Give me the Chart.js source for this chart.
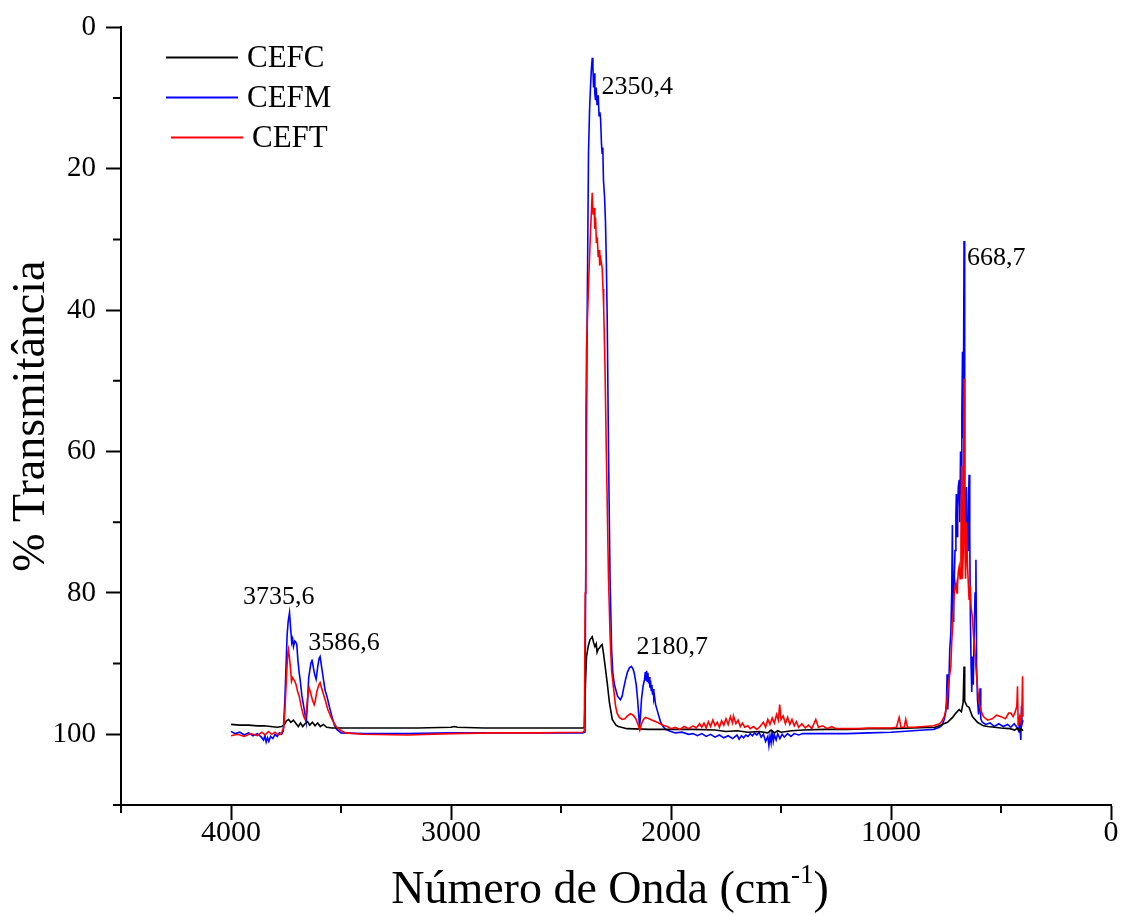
<!DOCTYPE html>
<html lang="pt-BR">
<head>
<meta charset="utf-8">
<title>Espectro FTIR - CEFC / CEFM / CEFT</title>
<script src="https://cdn.jsdelivr.net/npm/chart.js@4.4.1/dist/chart.umd.min.js"></script>
<style>
  html, body { margin: 0; padding: 0; background: #fff; }
  #caixa { position: relative; width: 1126px; height: 915px; }
</style>
</head>
<body>
<div id="caixa"><canvas id="grafico-ftir"></canvas></div>
<script>
// Séries: [número de onda (cm-1), % transmitância]
const cefc = [
  [4000,98.6],[3960,98.7],[3920,98.7],[3880,98.8],[3850,98.8],[3820,98.9],[3790,99.0],[3770,98.9],
  [3757,98.6],[3748,98.1],[3738,97.9],[3728,98.3],[3716,98.0],[3704,98.5],[3694,98.9],[3684,98.4],
  [3674,98.9],[3664,98.5],[3652,98.2],[3642,98.7],[3630,98.3],[3618,98.8],[3606,98.4],[3594,98.9],
  [3580,98.6],[3565,99.0],[3540,99.1],[3450,99.1],[3300,99.1],[3150,99.1],[3000,99.0],[2985,98.9],
  [2970,99.0],[2850,99.1],[2700,99.1],[2550,99.1],[2400,99.1],[2394,99.0],[2389,93.0],[2384,89.0],
  [2376,87.5],[2368,86.6],[2358,86.2],[2352,87.0],[2346,87.6],[2340,87.2],[2336,88.4],[2330,87.9],
  [2325,87.8],[2320,87.5],[2313,87.3],[2307,88.5],[2300,90.2],[2290,92.7],[2280,95.5],[2267,97.9],
  [2250,98.7],[2239,98.9],[2200,99.2],[2100,99.3],[2000,99.3],[1900,99.3],[1800,99.4],[1750,99.6],
  [1700,99.5],[1650,99.7],[1600,99.6],[1560,99.8],[1545,99.4],[1530,99.8],[1515,99.5],[1500,99.7],
  [1450,99.5],[1400,99.4],[1300,99.3],[1200,99.3],[1100,99.2],[1000,99.2],[900,99.1],[800,99.0],
  [780,98.8],[760,98.5],[743,98.3],[720,97.6],[705,97.0],[690,96.5],[680,96.8],[672,95.5],
  [668,90.4],[665,95.3],[655,96.0],[645,96.2],[630,97.5],[607,98.3],[580,98.8],[560,98.9],
  [500,99.1],[460,99.2],[437,99.4],[425,99.1],[415,99.6],[408,99.2],[400,99.5]
];

const cefm = [
  [4000,99.6],[3980,99.9],[3960,99.7],[3940,100.1],[3920,99.8],[3900,100.2],[3880,99.9],[3862,100.4],
  [3852,100.8],[3846,100.2],[3840,101.1],[3834,100.5],[3828,101.0],[3820,100.3],[3810,100.6],[3800,100.0],
  [3790,100.3],[3780,99.8],[3770,100.0],[3762,99.5],[3755,95.0],[3745,86.0],[3740,84.0],[3734,82.8],
  [3729,85.0],[3724,87.0],[3720,86.5],[3716,87.6],[3710,86.8],[3705,87.0],[3701,87.3],[3696,89.5],
  [3690,91.3],[3686,92.2],[3678,94.5],[3667,96.5],[3658,98.3],[3652,95.5],[3647,92.0],[3643,91.2],
  [3636,89.8],[3632,89.4],[3626,90.5],[3620,91.5],[3613,92.2],[3606,90.5],[3600,89.3],[3595,89.0],
  [3588,90.5],[3580,92.2],[3572,93.8],[3564,94.6],[3552,96.2],[3541,97.5],[3530,98.7],[3519,99.3],
  [3500,99.8],[3400,99.9],[3200,99.9],[3000,99.8],[2800,99.8],[2600,99.8],[2400,99.8],[2394,99.7],
  [2391,95.0],[2387,74.0],[2381,41.0],[2375,17.8],[2370,11.5],[2366,8.5],[2362,6.0],[2358,4.3],
  [2355,5.5],[2352,8.5],[2349,6.5],[2346,9.5],[2343,10.3],[2340,8.5],[2336,11.0],[2331,9.6],
  [2327,12.5],[2323,12.0],[2320,13.0],[2316,16.5],[2313,17.8],[2310,17.0],[2307,21.6],[2302,24.0],
  [2298,27.3],[2294,33.0],[2290,41.0],[2284,60.0],[2277,78.0],[2270,88.0],[2264,91.5],[2257,93.0],
  [2243,94.6],[2230,95.1],[2222,94.6],[2216,93.6],[2207,92.3],[2198,91.2],[2189,90.6],[2180,90.4],
  [2172,90.8],[2166,91.5],[2158,93.0],[2152,95.0],[2146,97.5],[2143,99.0],[2139,97.5],[2134,95.0],
  [2127,93.2],[2120,92.2],[2117,91.2],[2114,92.4],[2111,91.0],[2108,92.5],[2105,91.3],[2102,92.8],
  [2099,91.9],[2096,93.4],[2093,92.4],[2090,93.8],[2087,93.0],[2084,94.4],[2081,93.6],[2078,95.0],
  [2075,94.6],[2070,95.8],[2060,96.9],[2048,98.2],[2036,98.9],[2025,99.3],[2000,99.6],[1980,99.8],
  [1950,99.7],[1920,100.0],[1900,99.9],[1880,100.2],[1860,99.9],[1840,100.3],[1820,100.0],[1800,100.4],
  [1780,100.1],[1760,100.5],[1740,100.2],[1720,100.6],[1700,100.1],[1690,100.7],[1680,100.2],[1670,100.5],
  [1660,100.1],[1650,100.3],[1640,99.9],[1630,100.2],[1620,99.8],[1610,100.1],[1600,99.7],[1590,100.4],
  [1580,100.0],[1570,101.0],[1560,100.3],[1555,101.6],[1550,100.2],[1545,101.2],[1540,99.4],[1535,101.0],
  [1530,100.1],[1522,100.8],[1515,99.9],[1505,100.6],[1495,100.0],[1485,100.4],[1470,99.9],[1455,100.3],
  [1440,99.9],[1420,100.1],[1400,99.9],[1300,99.9],[1200,99.9],[1100,99.8],[1000,99.7],[900,99.5],
  [850,99.4],[806,99.3],[780,99.0],[770,98.8],[758,97.9],[752,97.0],[748,95.5],[745,91.5],
  [742,96.5],[738,94.0],[733,88.0],[728,85.7],[724,80.0],[721,70.4],[718,84.0],[715,80.0],
  [713,78.6],[709,74.0],[705,69.0],[703,66.0],[700,72.0],[697,68.0],[694,65.0],[690,64.0],
  [687,70.0],[684,60.0],[681,66.0],[678,55.0],[675,45.9],[672,58.0],[670,47.0],[668,30.2],
  [666,56.0],[664,66.0],[660,72.0],[657,65.0],[654,70.0],[650,74.0],[647,66.0],[645,63.3],
  [642,72.0],[639,84.0],[636,90.0],[633,94.0],[630,89.0],[626,93.0],[622,86.0],[618,80.0],
  [614,75.3],[611,90.0],[607,95.0],[602,97.2],[598,96.0],[595,93.5],[592,97.8],[585,98.3],
  [570,98.6],[550,98.4],[530,98.9],[510,98.5],[490,98.9],[470,98.6],[455,99.0],[440,98.5],
  [430,98.9],[420,99.5],[415,98.2],[410,100.8],[407,96.0],[404,98.5],[400,98.0]
];

const ceft = [
  [4000,100.2],[3970,100.0],[3940,100.3],[3910,99.9],[3880,100.2],[3860,99.7],[3845,100.1],[3830,99.6],
  [3815,100.0],[3800,99.7],[3785,100.1],[3770,99.8],[3760,99.0],[3754,96.0],[3748,92.0],[3742,88.5],
  [3739,88.0],[3735,89.0],[3730,90.5],[3725,92.5],[3720,92.0],[3716,92.2],[3710,92.5],[3704,93.0],
  [3697,94.0],[3690,94.6],[3680,96.2],[3670,97.4],[3663,97.9],[3656,96.3],[3650,94.2],[3645,93.4],
  [3638,94.2],[3630,95.1],[3622,95.8],[3617,95.3],[3610,94.0],[3602,93.1],[3595,92.7],[3588,93.5],
  [3580,94.3],[3572,95.1],[3560,96.5],[3541,97.9],[3520,99.0],[3504,99.4],[3480,99.8],[3400,100.0],
  [3200,100.1],[3000,99.9],[2800,99.8],[2600,99.8],[2400,99.7],[2394,99.5],[2390,80.0],[2387,55.0],
  [2384,45.0],[2378,39.5],[2372,34.0],[2366,29.0],[2361,25.5],[2358,23.4],[2354,26.5],[2350,25.5],
  [2346,28.5],[2343,26.9],[2339,30.5],[2335,29.7],[2331,32.5],[2327,31.5],[2324,33.7],[2319,32.8],
  [2313,34.0],[2309,37.0],[2306,39.6],[2300,48.0],[2294,60.0],[2284,78.0],[2277,86.0],[2270,91.0],
  [2261,93.5],[2252,96.0],[2245,97.0],[2235,97.6],[2222,97.9],[2210,97.8],[2198,97.4],[2184,97.1],
  [2172,97.3],[2160,97.8],[2150,98.6],[2142,99.4],[2134,98.5],[2125,97.9],[2116,97.6],[2100,97.8],
  [2085,98.0],[2063,98.3],[2040,98.7],[2017,98.9],[2000,99.2],[1980,99.0],[1960,99.3],[1940,98.9],
  [1920,99.2],[1900,98.8],[1885,99.1],[1870,98.5],[1860,99.0],[1850,98.4],[1840,99.1],[1830,98.2],
  [1820,98.9],[1810,98.0],[1800,98.8],[1790,98.3],[1780,99.0],[1770,98.1],[1760,98.7],[1750,97.8],
  [1740,98.6],[1730,97.5],[1720,98.4],[1716,97.4],[1705,98.5],[1695,98.0],[1685,98.9],[1675,98.4],
  [1665,99.0],[1650,98.8],[1640,99.2],[1625,98.9],[1610,99.3],[1595,98.9],[1580,98.3],[1570,99.0],
  [1560,97.9],[1550,98.6],[1540,97.7],[1530,98.4],[1520,97.2],[1512,98.0],[1506,95.8],[1500,97.9],
  [1490,97.4],[1480,98.5],[1470,97.6],[1460,98.6],[1450,97.9],[1440,98.8],[1430,98.2],[1420,99.0],
  [1405,98.5],[1390,99.1],[1375,98.7],[1360,99.2],[1342,97.9],[1330,99.0],[1310,98.8],[1290,99.2],
  [1270,98.9],[1250,99.2],[1200,99.2],[1150,99.2],[1100,99.1],[1050,99.1],[1000,99.1],[975,99.0],
  [963,97.6],[955,99.0],[940,99.0],[933,97.9],[925,99.0],[900,99.0],[850,98.9],[806,98.8],
  [780,98.5],[770,98.2],[758,97.5],[750,96.5],[743,94.1],[735,92.0],[728,90.4],[724,87.0],
  [720,84.8],[716,82.0],[712,80.0],[705,78.6],[700,80.0],[698,79.0],[694,77.0],[690,76.3],
  [686,78.0],[682,72.0],[679,62.0],[676,78.0],[672,75.0],[668,49.7],[665,72.0],[661,78.0],
  [657,70.0],[652,76.3],[648,79.0],[645,81.0],[640,79.0],[636,82.0],[630,83.4],[625,86.0],
  [619,88.0],[613,91.0],[607,93.2],[600,95.5],[592,96.6],[580,97.5],[561,98.0],[540,97.8],
  [520,97.3],[500,97.5],[480,97.8],[465,97.0],[455,97.0],[445,97.5],[435,96.8],[428,96.0],
  [425,93.2],[422,98.8],[415,97.5],[410,98.2],[405,96.5],[402,91.8],[400,97.5]
];

const nomesSeries = ['CEFC', 'CEFM', 'CEFT'];
const coresSeries = ['#000000', '#0000ff', '#ff0000'];

// Marcas dos eixos
const xTicksMaiores = [0, 1000, 2000, 3000, 4000];
const xTicksMenores = [500, 1500, 2500, 3500, 4500];
const yTicksMaiores = [0, 20, 40, 60, 80, 100];
const yTicksMenores = [10, 30, 50, 70, 90, 110];

// Rótulos dos picos
const picosTexto = ['3735,6', '3586,6', '2350,4', '2180,7', '668,7'];
const picosAncora = [[3945, 80.6], [3649, 87.1], [2316, 8.5], [2157, 87.7], [655, 32.6]];

const FONTE = '"Liberation Serif", "Times New Roman", serif';

document.addEventListener('DOMContentLoaded', function () {
    const ctx = document.getElementById('grafico-ftir');

    const paraPontos = serie => serie.map(p => ({ x: p[0], y: p[1] }));
    const series = [cefc, cefm, ceft];
    const ordem = [1, 2, 0]; // vermelho por cima, azul por baixo

    const datasets = series.map((s, i) => ({
        label: nomesSeries[i],
        data: paraPontos(s),
        borderColor: coresSeries[i],
        backgroundColor: coresSeries[i],
        borderWidth: 1.6,
        pointRadius: 0,
        tension: 0,
        order: ordem[i]
    }));

    /**
     * Desenha ticks menores, legenda, rótulos de picos e títulos dos eixos.
     */
    const decoracao = {
        id: 'decoracao',
        afterDraw(chart) {
            const { ctx: c, chartArea: area, scales } = chart;
            const x = scales.x, y = scales.y;
            c.save();

            // ticks menores
            c.strokeStyle = '#000';
            c.lineWidth = 2;
            c.beginPath();
            xTicksMenores.forEach(v => {
                const px = x.getPixelForValue(v);
                c.moveTo(px, area.bottom);
                c.lineTo(px, area.bottom + 8);
            });
            yTicksMenores.forEach(v => {
                const py = y.getPixelForValue(v);
                c.moveTo(area.left, py);
                c.lineTo(area.left - 8, py);
            });
            c.stroke();

            c.fillStyle = '#000';
            c.textAlign = 'left';
            c.textBaseline = 'middle';

            // rótulos dos picos
            c.font = '26px ' + FONTE;
            picosTexto.forEach((t, i) => {
                c.fillText(t, x.getPixelForValue(picosAncora[i][0]), y.getPixelForValue(picosAncora[i][1]));
            });

            // legenda
            c.font = '31px ' + FONTE;
            nomesSeries.forEach((nome, i) => {
                const desloc = i === 2 ? 5 : 0;
                const ly = area.top + 30 + i * 40;
                c.strokeStyle = coresSeries[i];
                c.lineWidth = 2;
                c.beginPath();
                c.moveTo(area.left + 45 + desloc, ly);
                c.lineTo(area.left + 117 + desloc, ly);
                c.stroke();
                c.fillText(nome, area.left + 126 + desloc, ly + 1);
            });

            // título do eixo y
            c.save();
            c.translate(area.left - 89, (area.top + area.bottom) / 2);
            c.rotate(-Math.PI / 2);
            c.textAlign = 'center';
            c.font = '46px ' + FONTE;
            c.fillText('% Transmitância', 0, 0);
            c.restore();

            // título do eixo x, com expoente
            const base = area.bottom + 98;
            const parte1 = 'Número de Onda (cm';
            const expo = '-1';
            const parte2 = ')';
            c.textBaseline = 'alphabetic';
            c.font = '46px ' + FONTE;
            const w1 = c.measureText(parte1).width;
            const w3 = c.measureText(parte2).width;
            c.font = '27px ' + FONTE;
            const w2 = c.measureText(expo).width;
            let tx = (area.left + area.right) / 2 - 6 - (w1 + w2 + w3) / 2;
            c.font = '46px ' + FONTE;
            c.fillText(parte1, tx, base);
            tx += w1;
            c.font = '27px ' + FONTE;
            c.fillText(expo, tx, base - 20);
            tx += w2;
            c.font = '46px ' + FONTE;
            c.fillText(parte2, tx, base);

            c.restore();
        }
    };

    new Chart(ctx, {
        type: 'line',
        data: { datasets: datasets },
        options: {
            responsive: true,
            maintainAspectRatio: false,
            animation: false,
            parsing: true,
            layout: { padding: { top: 27, right: 15, left: 0, bottom: 0 } },
            plugins: {
                legend: { display: false },
                tooltip: { enabled: false }
            },
            scales: {
                x: {
                    type: 'linear',
                    reverse: true,
                    min: 0,
                    max: 4500,
                    afterFit: s => { s.height = 110; },
                    afterBuildTicks: s => { s.ticks = xTicksMaiores.map(v => ({ value: v })); },
                    ticks: {
                        color: '#000',
                        font: { family: FONTE, size: 30 },
                        padding: -5,
                        maxRotation: 0,
                        callback: v => String(v)
                    },
                    grid: { drawOnChartArea: false, tickLength: 15, tickWidth: 2, tickColor: '#000' },
                    border: { color: '#000', width: 2 }
                },
                y: {
                    type: 'linear',
                    reverse: true,
                    min: 0,
                    max: 110,
                    afterFit: s => { s.width = 121; },
                    afterBuildTicks: s => { s.ticks = yTicksMaiores.map(v => ({ value: v })); },
                    ticks: {
                        color: '#000',
                        font: { family: FONTE, size: 29 },
                        padding: 10,
                        callback: v => String(v)
                    },
                    grid: { drawOnChartArea: false, tickLength: 15, tickWidth: 2, tickColor: '#000' },
                    border: { color: '#000', width: 2 }
                }
            }
        },
        plugins: [decoracao]
    });
});
</script>
</body>
</html>
